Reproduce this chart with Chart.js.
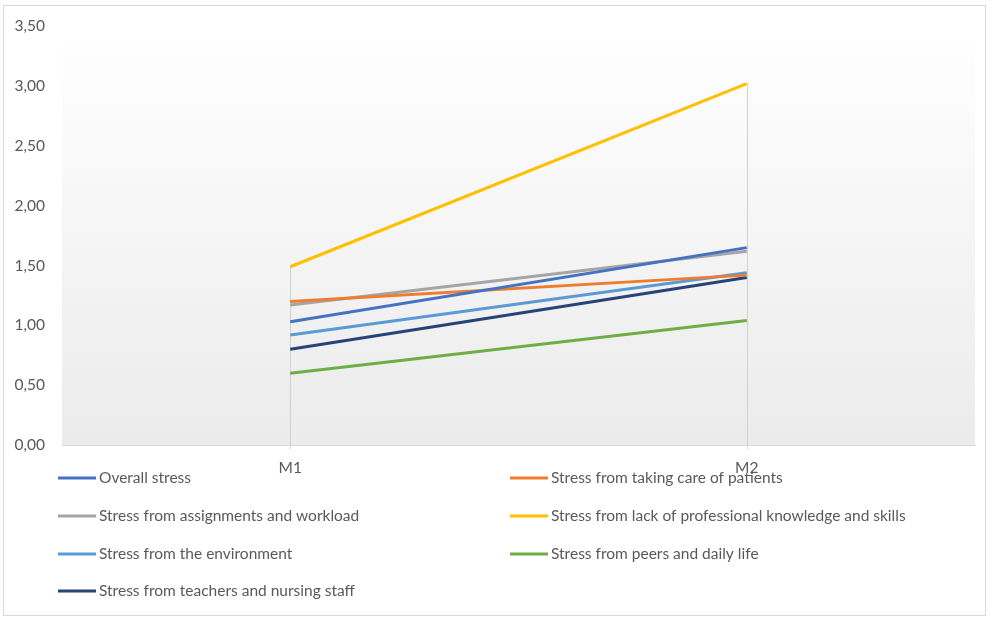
<!DOCTYPE html>
<html><head><meta charset="utf-8">
<script src="https://cdn.jsdelivr.net/npm/chart.js@4"></script>
<style>html,body{margin:0;padding:0;background:#fff;}#wrap{width:992px;height:620px;position:relative;}</style>
</head><body><div id="wrap"><canvas id="c" width="992" height="620"></canvas></div>
<script>
const categories = ['M1', 'M2'];
const seriesNames = [
  'Overall stress',
  'Stress from taking care of patients',
  'Stress from assignments and workload',
  'Stress from lack of professional knowledge and skills',
  'Stress from the environment',
  'Stress from peers and daily life',
  'Stress from teachers and nursing staff'
];
const overall = [1.03, 1.65];
const patients = [1.20, 1.42];
const assignments = [1.17, 1.62];
const knowledge = [1.49, 3.02];
const environment = [0.92, 1.44];
const peers = [0.60, 1.04];
const teachers = [0.80, 1.40];
const seriesColors = ['#4472C4', '#ED7D31', '#A5A5A5', '#FFC000', '#5B9BD5', '#70AD47', '#264478'];
const yTicks = [0, 0.5, 1, 1.5, 2, 2.5, 3, 3.5];

const values = [overall, patients, assignments, knowledge, environment, peers, teachers];
const FONT = 'Lato, "Open Sans", sans-serif';

const bgPlugin = {
  id: 'bg',
  beforeDraw(chart) {
    const {ctx, chartArea: a} = chart;
    ctx.save();
    ctx.strokeStyle = '#d9d9d9';
    ctx.lineWidth = 1;
    ctx.strokeRect(3.5, 5.5, 982, 610);
    const g = ctx.createLinearGradient(0, a.top, 0, a.bottom);
    g.addColorStop(0, '#ffffff');
    g.addColorStop(1, '#ebebeb');
    ctx.fillStyle = g;
    ctx.fillRect(a.left, a.top, a.right - a.left, a.bottom - a.top);
    const xs = chart.scales.x, ys = chart.scales.y;
    ctx.strokeStyle = '#d0d0d0';
    categories.forEach((c, i) => {
      let mx = 0;
      values.forEach(v => { if (v[i] > mx) mx = v[i]; });
      const x = Math.round(xs.getPixelForValue(i)) + 0.5;
      ctx.beginPath();
      ctx.moveTo(x, ys.getPixelForValue(mx));
      ctx.lineTo(x, a.bottom + 4);
      ctx.stroke();
    });
    ctx.restore();
  }
};

const legendPlugin = {
  id: 'customLegend',
  afterDraw(chart) {
    const ctx = chart.ctx;
    ctx.save();
    ctx.font = '15.5px ' + FONT;
    ctx.textBaseline = 'middle';
    ctx.fillStyle = '#595959';
    const colX = [58, 510];
    const rowY = [478, 516, 554, 591];
    chart.data.datasets.forEach((ds, i) => {
      const col = i % 2, row = Math.floor(i / 2);
      const x = colX[col], y = rowY[row];
      ctx.strokeStyle = ds.borderColor;
      ctx.lineWidth = 3;
      ctx.beginPath();
      ctx.moveTo(x, y);
      ctx.lineTo(x + 38, y);
      ctx.stroke();
      ctx.fillText(ds.label, x + 41, y);
    });
    ctx.restore();
  }
};

new Chart(document.getElementById('c'), {
  type: 'line',
  data: {
    labels: categories,
    datasets: seriesNames.map((n, i) => ({
      label: n,
      data: values[i],
      borderColor: seriesColors[i],
      backgroundColor: seriesColors[i],
      borderWidth: 3,
      pointRadius: 0,
      tension: 0
    }))
  },
  options: {
    responsive: false,
    animation: false,
    layout: {padding: {top: 16, left: 8, right: 17, bottom: 0}},
    plugins: {legend: {display: false}, tooltip: {enabled: false}},
    scales: {
      x: {
        offset: true,
        afterFit: (s) => { s.height = 175; },
        grid: {display: false, drawTicks: false},
        border: {display: true, color: '#d9d9d9', width: 1},
        ticks: {
          color: '#595959', font: {family: FONT, size: 15.5}, padding: 14
        }
      },
      y: {
        min: 0, max: 3.5,
        afterFit: (s) => { s.width = 54; },
        afterBuildTicks: (s) => { s.ticks = yTicks.map(v => ({value: v})); },
        grid: {display: false, drawTicks: false},
        border: {display: false},
        ticks: {
          color: '#595959', font: {family: FONT, size: 15.5}, padding: 17,
          callback: (v) => Number(v).toFixed(2).replace('.', ',')
        }
      }
    }
  },
  plugins: [bgPlugin, legendPlugin]
});
</script></body></html>
